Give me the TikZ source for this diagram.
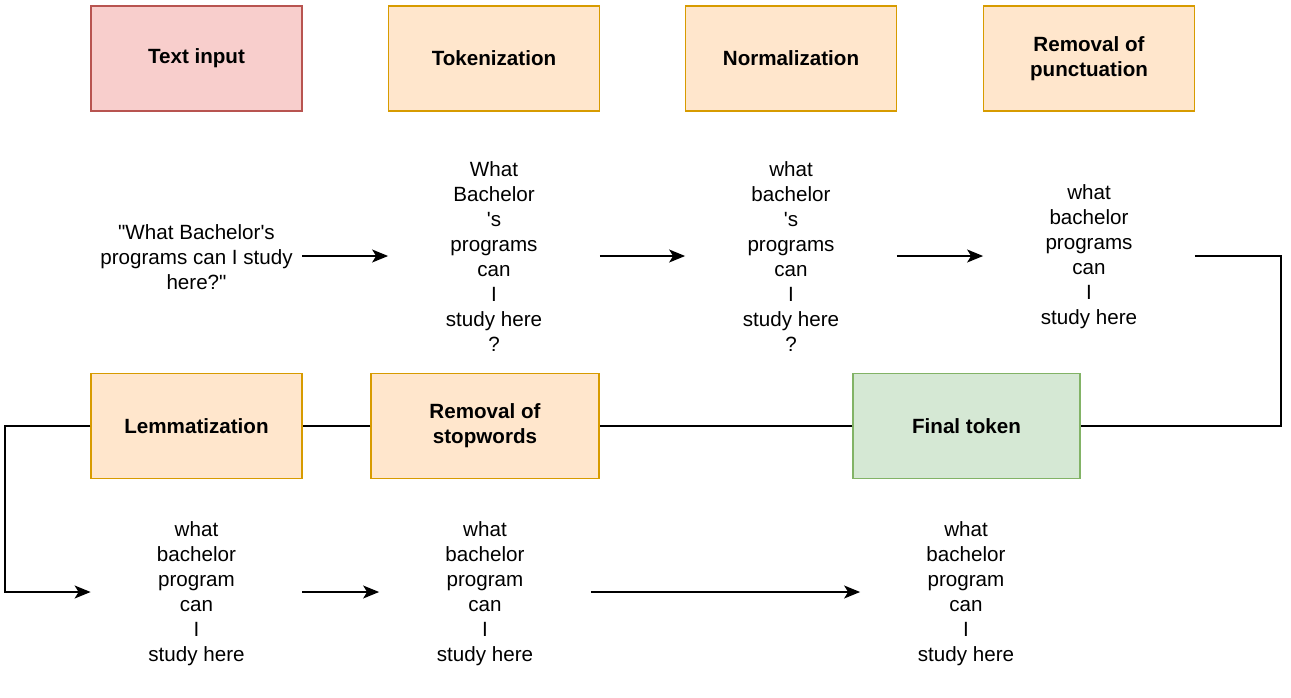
\documentclass[tikz,border=0pt]{standalone}
\usepackage{fontspec}
\setmainfont{Liberation Sans}
\usetikzlibrary{arrows.meta}
\definecolor{redfill}{HTML}{F8CECC}
\definecolor{redline}{HTML}{B85450}
\definecolor{orangefill}{HTML}{FFE6CC}
\definecolor{orangeline}{HTML}{D79B00}
\definecolor{greenfill}{HTML}{D5E8D4}
\definecolor{greenline}{HTML}{82B366}
\tikzset{
  stage/.style={draw=orangeline, fill=orangefill, line width=0.75pt,
    minimum width=105.5pt, minimum height=52.5pt, inner sep=0pt,
    align=center, font=\bfseries\fontsize{10.3}{12.6}\selectfont},
  words/.style={minimum width=105.5pt, inner sep=0pt, align=center,
    font=\fontsize{10.3}{12.5}\selectfont},
  flow/.style={line width=0.75pt, -{Stealth[length=8pt,width=6.5pt,inset=2pt]}},
  link/.style={line width=0.75pt}
}
\begin{document}
\begin{tikzpicture}[x=0.5pt,y=-0.5pt]
\useasboundingbox (0,0) rectangle (1291,697);

\node[stage, draw=redline, fill=redfill] (input) at (196.5,58.5) {Text input};
\node[stage] (token) at (494,58.5) {Tokenization};
\node[stage] (norm) at (791,58.5) {Normalization};
\node[stage] (punct) at (1089,58.5) {Removal of\\punctuation};

\node[words] (inputtxt) at (196.5,257) {\textquotedbl What Bachelor\textquotesingle s\\programs can I study\\here?\textquotedbl};
\node[words] (tokentxt) at (494,257) {What\\Bachelor\\\textquotesingle s\\programs\\can\\I\\study here\\?};
\node[words] (normtxt) at (791,257) {what\\bachelor\\\textquotesingle s\\programs\\can\\I\\study here\\?};
\node[words] (puncttxt) at (1089,257) {what\\bachelor\\programs\\can\\I\\study here};

\node[stage] (lemma) at (196.5,426) {Lemmatization};
\node[stage, minimum width=114pt] (stop) at (485,426) {Removal of\\stopwords};
\node[stage, draw=greenline, fill=greenfill, minimum width=113.5pt] (final) at (966.5,426) {Final token};

\node[words] (lemmatxt) at (196.5,594) {what\\bachelor\\program\\can\\I\\study here};
\node[words] (stoptxt) at (485,594) {what\\bachelor\\program\\can\\I\\study here};
\node[words] (finaltxt) at (966,594) {what\\bachelor\\program\\can\\I\\study here};

\coordinate (turnR) at (1281,256);
\coordinate (turnL) at (5,426);

\draw[flow] (inputtxt.east |- 0,256) -- (tokentxt.west |- 0,256);
\draw[flow] (tokentxt.east |- 0,256) -- (normtxt.west |- 0,256);
\draw[flow] (normtxt.east |- 0,256) -- (puncttxt.west |- 0,256);

\draw[link] (puncttxt.east |- 0,256) -- (turnR) |- (final.east);
\draw[link] (final.west) -- (stop.east);
\draw[link] (stop.west) -- (lemma.east);
\draw[flow] (lemma.west) -- (turnL) |- (lemmatxt.west |- 0,592);

\draw[flow] (lemmatxt.east |- 0,592) -- (stoptxt.west |- 0,592);
\draw[flow] (stoptxt.east |- 0,592) -- (finaltxt.west |- 0,592);
\end{tikzpicture}
\end{document}
